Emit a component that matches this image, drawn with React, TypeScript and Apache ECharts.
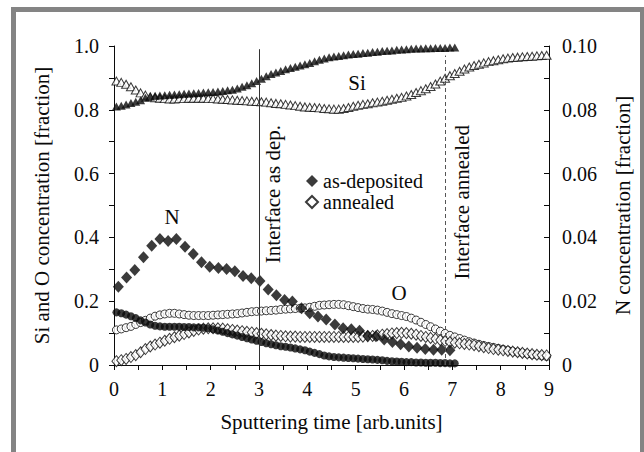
import React, { useEffect, useRef } from "react";
import * as echarts from "echarts";

// sampling grid (sputtering time, arb. units)
const annTimes: number[] = Array.from({ length: 90 }, (_, i) => Math.round((0.05 + i * 0.1) * 100) / 100);
const depTimes: number[] = annTimes.slice(0, 71);

// Si fraction, as-deposited (filled triangles)
const siDep = [
  0.810, 0.813, 0.817, 0.821, 0.825, 0.830, 0.838, 0.842, 0.844, 0.845,
  0.846, 0.847, 0.848, 0.849, 0.850, 0.851, 0.852, 0.853, 0.854, 0.855,
  0.856, 0.857, 0.859, 0.861, 0.863, 0.867, 0.872, 0.877, 0.883, 0.890,
  0.897, 0.905, 0.912, 0.917, 0.922, 0.927, 0.931, 0.935, 0.939, 0.943,
  0.947, 0.952, 0.957, 0.961, 0.965, 0.967, 0.969, 0.971, 0.973, 0.975,
  0.976, 0.978, 0.979, 0.981, 0.982, 0.984, 0.985, 0.986, 0.988, 0.989,
  0.990, 0.991, 0.992, 0.992, 0.993, 0.993, 0.994, 0.994, 0.994, 0.995,
  0.995,
];
// Si fraction, annealed (open triangles)
const siAnn = [
  0.890, 0.886, 0.880, 0.872, 0.862, 0.853, 0.846, 0.841, 0.838, 0.836,
  0.835, 0.834, 0.834, 0.835, 0.835, 0.836, 0.836, 0.836, 0.836, 0.835,
  0.835, 0.834, 0.833, 0.832, 0.831, 0.830, 0.829, 0.828, 0.827, 0.826,
  0.825, 0.824, 0.822, 0.820, 0.819, 0.817, 0.815, 0.813, 0.811, 0.809,
  0.808, 0.807, 0.806, 0.804, 0.803, 0.802, 0.802, 0.804, 0.807, 0.811,
  0.814, 0.817, 0.819, 0.822, 0.824, 0.827, 0.830, 0.833, 0.836, 0.839,
  0.843, 0.848, 0.854, 0.860, 0.866, 0.873, 0.881, 0.890, 0.899, 0.907,
  0.914, 0.921, 0.928, 0.934, 0.939, 0.943, 0.947, 0.951, 0.954, 0.957,
  0.960, 0.962, 0.964, 0.965, 0.966, 0.967, 0.968, 0.969, 0.970, 0.971,
];
// O fraction, as-deposited (filled circles)
const oDep = [
  0.165, 0.162, 0.158, 0.153, 0.147, 0.140, 0.133, 0.127, 0.123, 0.121,
  0.120, 0.120, 0.120, 0.120, 0.119, 0.119, 0.118, 0.118, 0.117, 0.115,
  0.112, 0.108, 0.104, 0.100, 0.096, 0.092, 0.088, 0.084, 0.080, 0.076,
  0.072, 0.068, 0.065, 0.062, 0.059, 0.057, 0.055, 0.052, 0.049, 0.046,
  0.042, 0.038, 0.034, 0.030, 0.027, 0.025, 0.024, 0.023, 0.022, 0.021,
  0.020, 0.019, 0.018, 0.017, 0.016, 0.015, 0.013, 0.012, 0.011, 0.010,
  0.009, 0.009, 0.008, 0.008, 0.007, 0.007, 0.007, 0.006, 0.006, 0.005,
  0.005,
];
// O fraction, annealed (open circles)
const oAnn = [
  0.110, 0.113, 0.117, 0.121, 0.127, 0.133, 0.140, 0.147, 0.153, 0.157,
  0.160, 0.162, 0.162, 0.160, 0.158, 0.156, 0.155, 0.155, 0.155, 0.155,
  0.156, 0.157, 0.158, 0.159, 0.160, 0.161, 0.163, 0.165, 0.167, 0.168,
  0.169, 0.170, 0.171, 0.172, 0.174, 0.175, 0.176, 0.177, 0.178, 0.179,
  0.181, 0.184, 0.187, 0.188, 0.189, 0.190, 0.190, 0.189, 0.186, 0.183,
  0.180, 0.177, 0.175, 0.174, 0.172, 0.169, 0.165, 0.161, 0.158, 0.155,
  0.152, 0.147, 0.141, 0.134, 0.127, 0.120, 0.113, 0.106, 0.099, 0.093,
  0.088, 0.083, 0.078, 0.073, 0.069, 0.065, 0.061, 0.058, 0.055, 0.052,
  0.049, 0.046, 0.043, 0.040, 0.038, 0.035, 0.033, 0.031, 0.029, 0.027,
];
// N fraction, annealed (open diamonds, right axis)
const nAnn = [
  0.0012, 0.0015, 0.0019, 0.0025, 0.0031, 0.0040, 0.0050, 0.0058, 0.0064, 0.0070,
  0.0076, 0.0082, 0.0087, 0.0092, 0.0097, 0.0102, 0.0107, 0.0111, 0.0114, 0.0115,
  0.0115, 0.0115, 0.0114, 0.0112, 0.0110, 0.0108, 0.0106, 0.0104, 0.0102, 0.0100,
  0.0098, 0.0096, 0.0094, 0.0092, 0.0091, 0.0090, 0.0089, 0.0089, 0.0088, 0.0088,
  0.0088, 0.0088, 0.0088, 0.0088, 0.0088, 0.0088, 0.0088, 0.0088, 0.0088, 0.0088,
  0.0088, 0.0089, 0.0090, 0.0091, 0.0093, 0.0095, 0.0097, 0.0099, 0.0100, 0.0101,
  0.0100, 0.0098, 0.0095, 0.0091, 0.0088, 0.0085, 0.0082, 0.0078, 0.0075, 0.0072,
  0.0070, 0.0068, 0.0066, 0.0064, 0.0062, 0.0059, 0.0056, 0.0053, 0.0050, 0.0048,
  0.0046, 0.0044, 0.0042, 0.0040, 0.0038, 0.0036, 0.0034, 0.0032, 0.0031, 0.0030,
];
// N fraction, as-deposited (filled diamonds, right axis)
const nDepTimes = [
  0.09, 0.26, 0.43, 0.61, 0.78, 0.95, 1.12, 1.29, 1.47, 1.64,
  1.81, 1.98, 2.16, 2.33, 2.5, 2.67, 2.84, 3.02, 3.19, 3.36,
  3.53, 3.69, 3.88, 4.05, 4.22, 4.39, 4.57, 4.74, 4.91, 5.08,
  5.25, 5.42, 5.59, 5.76, 5.93, 6.1, 6.27, 6.44, 6.61, 6.78, 6.95,
];
const nDep = [
  0.0245, 0.0274, 0.0298, 0.0338, 0.0374, 0.0395, 0.0389, 0.0395, 0.0371, 0.0348,
  0.0322, 0.0308, 0.0304, 0.0301, 0.0294, 0.0279, 0.0272, 0.0263, 0.0237, 0.0219,
  0.0204, 0.0199, 0.0178, 0.0162, 0.0152, 0.0143, 0.0127, 0.0115, 0.0112, 0.0107,
  0.0092, 0.0090, 0.0080, 0.0072, 0.0065, 0.0058, 0.0054, 0.0050, 0.0048, 0.0048, 0.0046,
];
const interfaceDep = 3;
const interfaceAnn = 6.85;

const FONT = "'Liberation Serif', 'Times New Roman', Times, 'DejaVu Serif', serif";
const INK = "#0a0a0a";

const zip = (xs: number[], ys: number[]) => ys.map((y, i) => [xs[i], y]);

export default function App() {
  const ref = useRef<HTMLDivElement>(null);
  useEffect(() => {
    if (!ref.current) return;
    const chart = echarts.init(ref.current, null, { renderer: "svg" });
    const filled = { color: INK };
    const open = { color: "#ffffff", borderColor: INK, borderWidth: 1 };
    const txt = (text: string, x: number, y: number, extra: any = {}) => ({
      type: "text",
      x,
      y,
      ...extra,
      style: {
        text,
        fontFamily: FONT,
        fontSize: 21,
        fill: INK,
        align: extra.align || "center",
        verticalAlign: "middle",
      },
    });
    chart.setOption({
      animation: false,
      backgroundColor: "#ffffff",
      textStyle: { fontFamily: FONT, color: INK },
      grid: { left: 114, right: 95, top: 46, bottom: 87, containLabel: false },
      legend: {
        data: ["as-deposited", "annealed"],
        orient: "vertical",
        left: 305,
        top: 171,
        padding: 0,
        itemWidth: 12,
        itemHeight: 12,
        itemGap: 1,
        textStyle: { fontFamily: FONT, fontSize: 20, color: INK },
      },
      xAxis: {
        type: "value",
        min: 0,
        max: 9,
        interval: 1,
        name: "Sputtering time [arb.units]",
        nameLocation: "middle",
        nameGap: 46,
        nameTextStyle: { fontFamily: FONT, fontSize: 21, color: INK },
        axisLine: { lineStyle: { color: INK, width: 1 } },
        axisTick: { length: 5, lineStyle: { color: INK } },
        minorTick: { show: true, splitNumber: 2, length: 5, lineStyle: { color: INK } },
        axisLabel: { fontFamily: FONT, fontSize: 20, color: INK, margin: 14 },
        splitLine: { show: false },
      },
      yAxis: [
        {
          type: "value",
          min: 0,
          max: 1,
          interval: 0.2,
          position: "left",
          name: "Si and O concentration [fraction]",
          nameLocation: "middle",
          nameRotate: 90,
          nameGap: 62,
          nameTextStyle: { fontFamily: FONT, fontSize: 21, color: INK },
          axisLine: { show: true, lineStyle: { color: INK, width: 1 } },
          axisTick: { show: true, length: 5, lineStyle: { color: INK } },
          minorTick: { show: true, splitNumber: 2, length: 5, lineStyle: { color: INK } },
          axisLabel: {
            fontFamily: FONT,
            fontSize: 20,
            color: INK,
            margin: 15,
            formatter: (v: number) => (v === 0 ? "0" : v.toFixed(1)),
          },
          splitLine: { show: false },
        },
        {
          type: "value",
          min: 0,
          max: 0.1,
          interval: 0.02,
          position: "right",
          name: "N concentration [fraction]",
          nameLocation: "middle",
          nameRotate: 90,
          nameGap: 63,
          nameTextStyle: { fontFamily: FONT, fontSize: 21, color: INK },
          axisLine: { show: true, lineStyle: { color: INK, width: 1 } },
          axisTick: { show: true, inside: true, length: 5, lineStyle: { color: INK } },
          minorTick: { show: true, splitNumber: 2, length: 5, lineStyle: { color: INK } },
          axisLabel: {
            fontFamily: FONT,
            fontSize: 20,
            color: INK,
            margin: 13,
            formatter: (v: number) => (v === 0 ? "0" : v.toFixed(2)),
          },
          splitLine: { show: false },
        },
      ],
      series: [
        {
          name: "Si annealed",
          type: "scatter",
          symbol: "triangle",
          symbolSize: [9, 8],
          itemStyle: open,
          data: zip(annTimes, siAnn),
          markLine: {
            silent: true,
            symbol: "none",
            label: { show: false },
            data: [
              [
                { coord: [interfaceDep, 0], lineStyle: { color: "#333", width: 1, type: "solid" } },
                { coord: [interfaceDep, 0.99] },
              ],
              [
                { coord: [interfaceAnn, 0], lineStyle: { color: "#555", width: 1, type: [4, 3] } },
                { coord: [interfaceAnn, 0.97] },
              ],
            ],
          },
        },
        {
          name: "Si as-deposited",
          type: "scatter",
          symbol: "triangle",
          symbolSize: [9, 8],
          itemStyle: filled,
          data: zip(depTimes, siDep),
        },
        {
          name: "O annealed",
          type: "scatter",
          symbol: "circle",
          symbolSize: 8,
          itemStyle: open,
          data: zip(annTimes, oAnn),
        },
        {
          name: "annealed",
          type: "scatter",
          yAxisIndex: 1,
          symbol: "diamond",
          symbolSize: [9, 11],
          itemStyle: open,
          data: zip(annTimes, nAnn),
        },
        {
          name: "O as-deposited",
          type: "scatter",
          symbol: "circle",
          symbolSize: 8,
          itemStyle: filled,
          data: zip(depTimes, oDep),
        },
        {
          name: "as-deposited",
          type: "scatter",
          yAxisIndex: 1,
          symbol: "diamond",
          symbolSize: [11, 12],
          itemStyle: filled,
          data: zip(nDepTimes, nDep),
        },
      ],
      graphic: [
        {
          type: "rect",
          silent: true,
          shape: { x: 13.5, y: 9.5, width: 629, height: 470 },
          style: { fill: "none", stroke: "#848484", lineWidth: 5 },
          z: 100,
        },
        txt("Si", 357, 83),
        txt("N", 172, 217),
        txt("O", 399, 293),
        txt("Interface as dep.", 273, 125, { rotation: Math.PI / 2, align: "right" }),
        txt("Interface annealed", 462, 125, { rotation: Math.PI / 2, align: "right" }),
      ],
    });
    return () => chart.dispose();
  }, []);
  return (
    <div
      ref={ref}
      style={{ position: "absolute", left: 0, top: 0, width: 644, height: 452, background: "#fff" }}
    />
  );
}
